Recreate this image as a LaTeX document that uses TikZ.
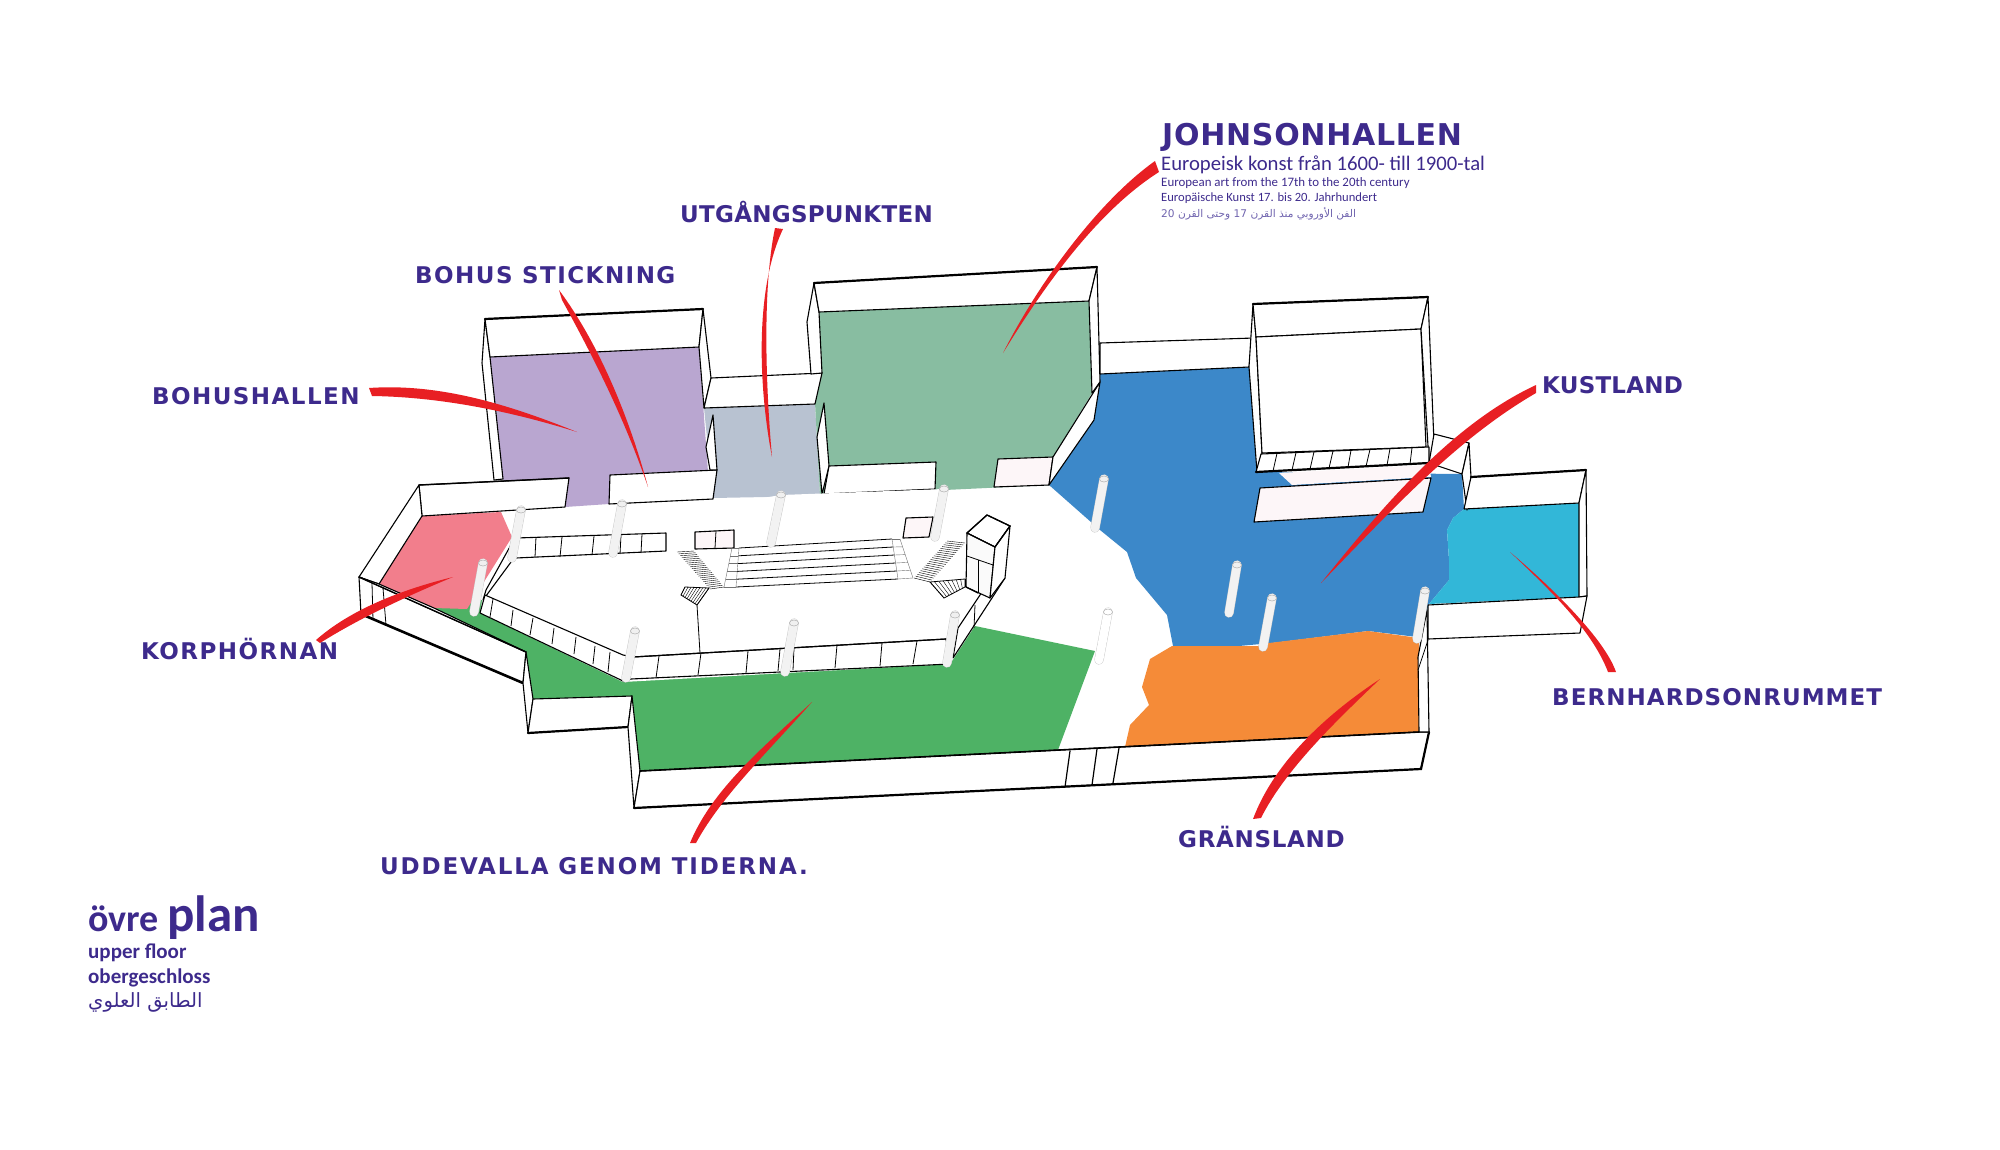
\documentclass[tikz,border=0pt]{standalone}
\usepackage{fontspec}
\setmainfont{Carlito}
\newfontfamily\labelfont{DejaVu Sans}
\newfontfamily\arabicfont[Script=Arabic]{DejaVu Sans}
\TeXXeTstate=1
\usetikzlibrary{calc}
\definecolor{ink}{HTML}{3D2A8C}
\definecolor{inklight}{HTML}{6F63AE}
\definecolor{marker}{HTML}{E81F23}
\definecolor{roompurple}{HTML}{B9A6D0}
\definecolor{roomgrey}{HTML}{B8C2D1}
\definecolor{roomteal}{HTML}{88BDA1}
\definecolor{roomblue}{HTML}{3C88C9}
\definecolor{roomcyan}{HTML}{32B7D8}
\definecolor{roomorange}{HTML}{F58B38}
\definecolor{roomgreen}{HTML}{4EB265}
\definecolor{roompink}{HTML}{F27E8C}
\definecolor{blush}{HTML}{FDF6F8}
\tikzset{
	wall/.style={draw=black,fill=white,line width=1.1pt,line join=round},
	blushwall/.style={wall,fill=blush},
	edge/.style={draw=black,line width=2.2pt,line cap=round},
	thin line/.style={draw=black,line width=.8pt},
	pillarbody/.style={draw=black!22,double=#1,double distance=8.5pt,line width=.4pt,line cap=round},
	pillartop/.style={draw=black!30,fill=white!94!black,line width=.5pt},
	hatch/.style={draw=black,line width=.4pt},
	room/.style={fill=#1,draw=none},
	swoosh/.style={fill=marker,draw=none},
	hall/.style={anchor=base west,inner sep=0pt,text=ink,font=\labelfont\fontsize{23}{23}\addfontfeature{LetterSpace=#1}\bfseries}
}
\begin{document}
\begin{tikzpicture}[x=1pt,y=-1pt]
	\useasboundingbox (0,0) rectangle (2000,1149);

	% rooms
	\fill[room=roompurple] (490,357) -- (699,347) -- (708,472) -- (609,504) -- (565,507) -- (503,480) -- cycle;
	\fill[room=roomgrey] (704,408) -- (815,404) -- (820,496) -- (713,498) -- cycle;
	\fill[room=roomteal] (819,312) -- (1089,301) -- (1092,393) -- (1053,457) -- (1049,485) -- (820,496) -- (815,403) -- cycle;
	\fill[room=roomblue] (1100,374) -- (1249,367) -- (1257,472) -- (1462,474) -- (1464,509) -- (1453,518) -- (1447,530) -- (1449,560) -- (1449,580) -- (1429,604) -- (1417,637) -- (1368,631) -- (1272,643) -- (1239,646) -- (1173,646) -- (1167,615) -- (1136,578) -- (1127,552) -- (1100,530) -- (1049,485) -- (1094,420) -- cycle;
	\fill[room=roomcyan] (1464,509) -- (1579,503) -- (1579,597) -- (1429,604) -- (1449,580) -- (1449,560) -- (1447,530) -- (1453,518) -- cycle;
	\fill[room=roomorange] (1172,646) -- (1258,646) -- (1269,643) -- (1368,631) -- (1412,637) -- (1419,643) -- (1419,732) -- (1125,747) -- (1130,725) -- (1149,705) -- (1142,687) -- (1150,659) -- cycle;
	\fill[room=roomgreen] (432,609) -- (526,652) -- (533,699) -- (632,696) -- (640,771) -- (1058,750) -- (1095,651) -- (975,626) -- (900,600) -- (468,600) -- cycle;
	\fill[room=roompink] (422,516) -- (501,512) -- (512,537) -- (487,577) -- (467,609) -- (434,608) -- (379,584) -- cycle;

	% walls of the bohus room and the passage
	\draw[wall] (485,319) -- (482,363) -- (494,480) -- (503,479) -- (490,357) -- cycle;
	\draw[wall] (485,319) -- (703,309) -- (699,347) -- (490,357) -- cycle;
	\draw[edge] (485,319) -- (703,309);
	\draw[wall] (703,309) -- (711,378) -- (704,408) -- (699,347) -- cycle;
	\draw[wall] (711,378) -- (822,373) -- (815,404) -- (704,408) -- cycle;
	\draw[wall] (610,475) -- (717,470) -- (713,499) -- (609,504) -- cycle;
	\draw[wall] (713,415) -- (706,447) -- (710,470) -- (717,470) -- cycle;

	% walls of the johnson room
	\draw[wall] (814,283) -- (807,322) -- (811,374) -- (822,373) -- (819,312) -- cycle;
	\draw[wall] (814,283) -- (1097,267) -- (1089,301) -- (819,312) -- cycle;
	\draw[edge] (814,283) -- (1097,267);
	\draw[wall] (1097,267) -- (1100,382) -- (1092,393) -- (1089,301) -- cycle;
	\draw[wall] (824,403) -- (817,437) -- (822,494) -- (829,466) -- cycle;
	\draw[wall] (829,466) -- (936,462) -- (935,489) -- (824,494) -- cycle;
	\draw[blushwall] (998,459) -- (1053,457) -- (1049,485) -- (994,487) -- cycle;
	\draw[wall] (1100,382) -- (1094,420) -- (1049,485) -- (1053,457) -- cycle;
	\draw[wall] (1100,343) -- (1254,338) -- (1249,367) -- (1100,374) -- cycle;

	% the closed room with its band
	\draw[wall] (1253,304) -- (1249,367) -- (1257,472) -- (1262,453) -- (1256,337) -- cycle;
	\draw[wall] (1253,304) -- (1428,297) -- (1421,329) -- (1256,337) -- cycle;
	\draw[edge] (1253,304) -- (1428,297);
	\draw[wall] (1256,337) -- (1421,329) -- (1426,447) -- (1262,453) -- cycle;
	\draw[wall] (1428,297) -- (1434,443) -- (1429,463) -- (1421,329) -- cycle;
	\draw[wall] (1261,454) -- (1429,447) -- (1429,463) -- (1256,472) -- cycle;
	\draw[edge] (1256,472) -- (1429,463);
	\foreach \bx/\tx in {1273/1277,1292/1296,1310/1314,1329/1333,1348/1351,1366/1370,1387/1390,1410/1412}
		\draw[thin line] (\tx,{454-(\tx-1261)*.042}) -- (\bx,{472-(\bx-1256)*.052});
	\fill[blush] (1279,473) -- (1429,465) -- (1431,477) -- (1292,485) -- cycle;
	\draw[blushwall] (1260,488) -- (1431,478) -- (1423,512) -- (1254,522) -- cycle;
	\draw[wall] (1434,434) -- (1469,443) -- (1462,474) -- (1429,463) -- cycle;
	\draw[wall] (1469,443) -- (1471,477) -- (1467,510) -- (1462,474) -- cycle;

	% walls of the bernhardson room
	\draw[wall] (1471,477) -- (1586,470) -- (1579,503) -- (1464,509) -- cycle;
	\draw[edge] (1471,477) -- (1586,470);
	\draw[wall] (1586,470) -- (1587,596) -- (1579,597) -- (1579,503) -- cycle;
	\draw[wall] (1428,605) -- (1579,597) -- (1587,596) -- (1580,633) -- (1428,639) -- cycle;

	% left corner walls
	\draw[wall] (419,485) -- (569,478) -- (565,507) -- (422,516) -- cycle;
	\draw[edge,line width=1.4pt] (419,485) -- (569,478);
	\draw[wall] (419,485) -- (359,577) -- (379,584) -- (422,516) -- cycle;
	\draw[wall] (359,577) -- (526,652) -- (523,683) -- (361,614) -- cycle;
	\draw[wall] (359,577) -- (379,584) -- (434,608) -- (526,652);
	\draw[edge,line width=1.4pt] (359,577) -- (526,652);
	\draw[edge,line width=2.6pt] (361,614) -- (523,683);
	\draw[thin line] (372,583) -- (373,620);
	\draw[thin line] (383,588) -- (386,625);

	% south walls
	\draw[wall] (526,652) -- (533,699) -- (528,733) -- (523,683) -- cycle;
	\draw[wall] (533,699) -- (632,696) -- (628,727) -- (528,733) -- cycle;
	\draw[edge] (528,733) -- (628,727);
	\draw[wall] (632,696) -- (640,771) -- (634,808) -- (628,727) -- cycle;
	\draw[wall] (640,771) -- (1419,732) -- (1429,732) -- (1421,769) -- (634,808) -- cycle;
	\draw[edge,line width=1.6pt] (640,771) -- (1419,732);
	\draw[edge] (634,808) -- (1421,769) -- (1429,732);
	\foreach \tx/\ty/\bx/\by in {1070/751/1065/787,1097/749/1092/785,1119/748/1113/783}
		\draw[edge,line width=1.2pt] (\tx,\ty) -- (\bx,\by);
	\draw[wall] (1418,657) -- (1427,610) -- (1429,732) -- (1419,732) -- cycle;
	\draw[thin line] (1418,670) -- (1428,640);

	% platform
	\fill[white] (516,538) -- (483,595) -- (480,613) -- (623,682) -- (950,664) -- (1006,578) -- (1010,526) -- (987,515) -- (967,533) -- (944,489) -- (781,495) -- cycle;
	\draw[wall] (516,538) -- (666,533) -- (666,551) -- (516,558) -- cycle;
	\draw[blushwall] (695,532) -- (734,530) -- (734,548) -- (695,549) -- cycle;
	\draw[thin line] (716,531) -- (715,548);
	\draw[blushwall] (906,518) -- (933,517) -- (929,537) -- (903,538) -- cycle;
	\foreach \tx/\ty/\bx/\by in {536/537/535/557,562/537/560/557,594/536/592/555,621/535/620/554,642/534/641/553}
		\draw[thin line] (\tx,\ty) -- (\bx,\by);
	% left side
	\draw[wall] (512,543) -- (514,558) -- (483,600) -- (486,590) -- cycle;
	% long diagonal front
	\draw[wall] (485,595) -- (623,655) -- (633,657) -- (946,639) -- (950,664) -- (631,679) -- (623,681) -- (480,613) -- cycle;
	\foreach \tx/\ty/\bx/\by in {493/599/490/617,513/610/511/626,533/618/530/635,554/628/552/644,576/637/574/654,595/646/593/664,610/652/608/672,659/656/656/678,701/653/698/675,748/651/746/673,780/649/778/671,794/648/793/670,837/645/835/668,882/643/880/666,917/641/913/664}
		\draw[thin line] (\tx,\ty) -- (\bx,\by);
	\draw[edge,line width=1.2pt] (633,657) -- (946,639);
	% right side
	\draw[wall] (953,658) -- (958,628) -- (990,580) -- (1005,578) -- (953,658);
	\draw[thin line] (975,605) -- (974,628);
	\draw[thin line] (990,580) -- (990,598);

	% tower
	\draw[wall] (967,533) -- (987,515) -- (1010,526) -- (995,547) -- cycle;
	\draw[wall,fill=black!2] (967,533) -- (995,547) -- (990,598) -- (966,587) -- cycle;
	\draw[wall] (995,547) -- (1010,526) -- (1005,578) -- (990,598) -- cycle;
	\draw[edge,line width=1.3pt] (967,533) -- (987,515) -- (1010,526) -- (995,547) -- cycle;
	\draw[edge,line width=1.3pt] (966,587) -- (978,593);
	\draw[thin line] (967,556) -- (993,565);
	\draw[thin line] (978,560) -- (978,593);

	% big steps
	\coordinate (stepTL) at (739,548);
	\coordinate (stepTR) at (892,539);
	\coordinate (stepBL) at (736,587);
	\coordinate (stepBR) at (898,579);
	\foreach \t in {0,0.2,0.4,0.6,0.8,1}{
		\draw[thin line] ($(stepTL)!\t!(stepBL)$) -- ($(stepTR)!\t!(stepBR)$);
		\draw[hatch,black!55] ($(732,548)!\t!(724,587)$) -- ($(stepTL)!\t!(stepBL)$);
		\draw[hatch,black!55] ($(stepTR)!\t!(stepBR)$) -- ($(900,539)!\t!(913,578)$);
	}
	\draw[hatch,black!55] (732,548) -- (724,587);
	\draw[hatch,black!55] (739,548) -- (736,587);
	\draw[hatch,black!55] (892,539) -- (898,579);
	\draw[hatch,black!55] (900,539) -- (913,578);

	% narrow stairs
	\foreach \t in {0,.05,...,1.01}{
		\draw[hatch] ($(677,552)!\t!(710,589)$) -- ($(694,551)!\t!(724,587)$);
		\draw[hatch] ($(947,541)!\t!(914,578)$) -- ($(965,543)!\t!(930,582)$);
	}
	\foreach \t in {0,.125,...,1.01}{
		\draw[hatch] ($(685,587)!\t!(709,588)$) -- ($(681,595)!\t!(697,605)$);
		\draw[hatch] ($(930,582)!\t!(965,579)$) -- ($(944,598)!\t!(965,587)$);
	}
	\draw[thin line] (681,595) -- (685,587) -- (709,588) -- (697,605) -- cycle;
	\draw[thin line] (930,582) -- (965,579) -- (965,587) -- (944,598) -- cycle;
	\draw[thin line] (697,605) -- (700,653);

	% pillars
	\foreach \tx/\ty/\bx/\by in {521/510/512/558,622/504/613/553,781/495/771/543,944/489/935/537,483/563/474/612,635/631/626/678,794/623/785/672,955/615/947/663,1104/479/1095/528,1237/565/1229/613,1272/598/1263/647,1425/591/1417/639}{
		\draw[pillarbody=black!5] (\tx,\ty) -- (\bx,\by);
		\draw[pillartop] (\tx,\ty) ellipse (4.6pt and 3pt);
	}
	\draw[pillarbody=white] (1108,612) -- (1099,660);
	\draw[pillartop,fill=white] (1108,612) ellipse (4.6pt and 3pt);

	% red strokes
	\fill[swoosh] (369,388) .. controls (440,383) and (510,405) .. (577,432) .. controls (510,411) and (440,397) .. (372,396) -- cycle;
	\fill[swoosh] (559,290) .. controls (600,345) and (630,420) .. (648,487) .. controls (625,420) and (595,360) .. (562,300) -- cycle;
	\fill[swoosh] (775,228) .. controls (762,290) and (766,390) .. (772,457) .. controls (759,390) and (754,290) .. (783,229) -- cycle;
	\fill[swoosh] (1155,161) .. controls (1100,200) and (1040,280) .. (1003,353) .. controls (1043,288) and (1096,212) .. (1159,172) -- cycle;
	\fill[swoosh] (1536,385) .. controls (1450,425) and (1380,510) .. (1321,583) .. controls (1390,512) and (1455,440) .. (1536,393) -- cycle;
	\fill[swoosh] (1510,552) .. controls (1555,590) and (1605,640) .. (1616,672) -- (1608,672) .. controls (1592,630) and (1550,590) .. cycle;
	\fill[swoosh] (1380,679) .. controls (1330,712) and (1275,760) .. (1253,819) -- (1261,818) .. controls (1285,770) and (1335,722) .. cycle;
	\fill[swoosh] (812,702) .. controls (760,750) and (712,790) .. (690,843) -- (696,843) .. controls (722,795) and (770,750) .. cycle;
	\fill[swoosh] (453,577) .. controls (400,590) and (350,610) .. (316,640) -- (320,643) .. controls (360,618) and (405,597) .. cycle;

	% hall names
	\node[hall=1.2] (utgang) at (680,222) {UTGÅNGSPUNKTEN};
	\node[hall=6.4] (stickning) at (415,283) {BOHUS STICKNING};
	\node[hall=6.3] (bohushallen) at (152,404) {BOHUSHALLEN};
	\node[hall=1] (kustland) at (1542,393) {KUSTLAND};
	\node[hall=6.4] (korphornan) at (141,659) {KORPHÖRNAN};
	\node[hall=4.6] (bernhardson) at (1552,705) {BERNHARDSONRUMMET};
	\node[hall=3] (gransland) at (1178,847) {GRÄNSLAND};
	\node[hall=8] (uddevalla) at (380,874) {UDDEVALLA GENOM TIDERNA.};

	% johnsonhallen text
	\node[anchor=base west,inner sep=0pt,text=ink,font=\labelfont\fontsize{30}{30}\addfontfeature{LetterSpace=2.4}\bfseries] (johnson) at (1162,145) {JOHNSONHALLEN};
	\node[anchor=base west,inner sep=0pt,text=ink,font=\fontsize{20.7}{20.7}\selectfont] (johnsonsv) at (1161,170) {Europeisk konst från 1600- till 1900-tal};
	\node[anchor=base west,inner sep=0pt,text=ink,font=\fontsize{12.9}{13}\selectfont] (johnsonen) at (1161,186) {European art from the 17th to the 20th century};
	\node[anchor=base west,inner sep=0pt,text=ink,font=\fontsize{12.6}{13}\selectfont] (johnsonde) at (1161,201) {Europäische Kunst 17. bis 20. Jahrhundert};
	\node[anchor=base west,inner sep=0pt,text=inklight,font=\arabicfont\fontsize{10.6}{10.6}\selectfont] (johnsonar) at (1161,217) {\beginR الفن الأوروبي منذ القرن \beginL 17\endL{} وحتى القرن \beginL 20\endL{}\endR};

	% floor name
	\node[anchor=base west,inner sep=0pt,text=ink,font=\bfseries\fontsize{38}{38}\selectfont] (ovre) at (88,931) {övre {\fontsize{51}{51}\selectfont plan}};
	\node[anchor=base west,inner sep=0pt,text=ink,font=\bfseries\fontsize{21}{21}\selectfont] (upper) at (88,958) {upper floor};
	\node[anchor=base west,inner sep=0pt,text=ink,font=\bfseries\fontsize{21}{21}\selectfont] (ober) at (88,983) {obergeschloss};
	\node[anchor=base west,inner sep=0pt,text=ink,font=\arabicfont\fontsize{19.6}{19.6}\selectfont] (floorar) at (88,1007) {\beginR الطابق العلوي\endR};
\end{tikzpicture}
\end{document}
